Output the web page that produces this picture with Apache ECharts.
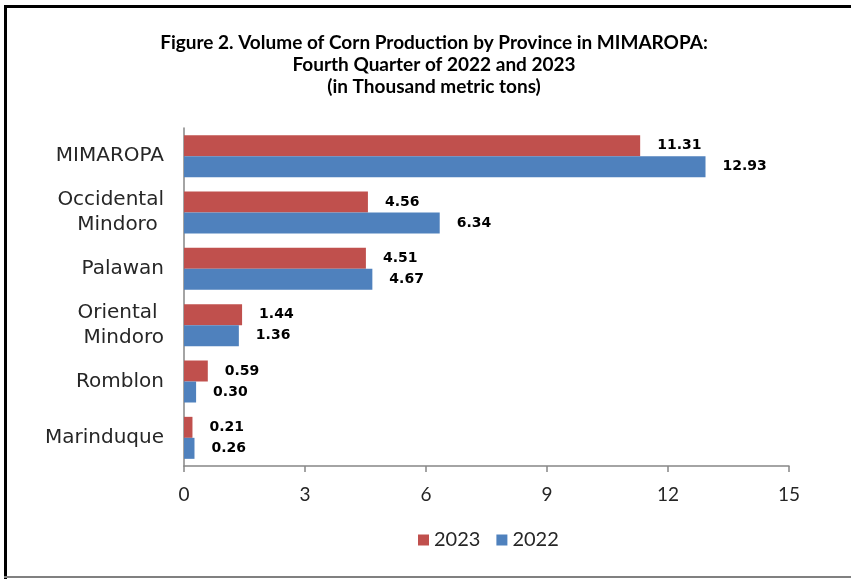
<!DOCTYPE html>
<html>
<head>
<meta charset="utf-8">
<script src="https://cdn.jsdelivr.net/npm/echarts@6/dist/echarts.min.js"></script>
<style>
  html, body { margin: 0; padding: 0; background: #ffffff; }
  #chart { width: 851px; height: 579px; }
</style>
</head>
<body>
<div id="chart"></div>
<script>
var categories = ['MIMAROPA', 'Occidental\nMindoro ', 'Palawan', 'Oriental \nMindoro', 'Romblon', 'Marinduque'];
var values2023 = [11.31, 4.56, 4.51, 1.44, 0.59, 0.21];
var values2022 = [12.93, 6.34, 4.67, 1.36, 0.30, 0.26];
var xTicks = [0, 3, 6, 9, 12, 15];
var titleLines = ['Figure 2. Volume of Corn Production by Province in MIMAROPA:', 'Fourth Quarter of 2022 and 2023', '(in Thousand metric tons)'];

var chart = echarts.init(document.getElementById('chart'), null, { renderer: 'canvas' });

var labelStyle = {
  show: true,
  position: 'right',
  distance: 17,
  color: '#000000',
  fontFamily: 'DejaVu Sans',
  fontWeight: 'bold',
  fontSize: 14,
  formatter: function (p) { return p.value.toFixed(2); }
};

chart.setOption({
  animation: false,
  backgroundColor: '#ffffff',
  title: {
    text: titleLines.join('\n'),
    left: 429,
    top: 27,
    textAlign: 'center',
    textStyle: {
      fontFamily: 'Lato',
      fontWeight: 'bold',
      fontSize: 19,
      lineHeight: 22,
      color: '#000000'
    }
  },
  legend: {
    data: ['2023', '2022'],
    left: 418,
    top: 530,
    itemWidth: 11,
    itemHeight: 11,
    itemGap: 16,
    icon: 'rect',
    padding: 0,
    textStyle: { fontFamily: 'Lato', fontSize: 20, color: '#262626' }
  },
  grid: { left: 184, right: 62, top: 128, bottom: 113, containLabel: false },
  xAxis: {
    type: 'value',
    min: xTicks[0],
    max: xTicks[xTicks.length - 1],
    interval: 3,
    axisLine: { show: true, lineStyle: { color: '#868686', width: 1.5 } },
    axisTick: { show: true, length: 6, lineStyle: { color: '#868686', width: 1.5 } },
    splitLine: { show: false },
    axisLabel: { margin: 19, fontFamily: 'Lato', fontSize: 19, color: '#262626' }
  },
  yAxis: {
    type: 'category',
    data: categories,
    inverse: true,
    axisLine: { show: true, lineStyle: { color: '#868686', width: 1.5 } },
    axisTick: { show: false },
    axisLabel: { margin: 20, fontFamily: 'DejaVu Sans', fontSize: 20, lineHeight: 25, color: '#262626', align: 'right' }
  },
  series: [
    {
      name: '2023',
      type: 'bar',
      data: values2023,
      barWidth: 21,
      barGap: '0%',
      itemStyle: { color: '#C0504D' },
      label: labelStyle
    },
    {
      name: '2022',
      type: 'bar',
      data: values2022,
      barWidth: 21,
      barGap: '0%',
      itemStyle: { color: '#4F81BD' },
      label: labelStyle
    }
  ],
  graphic: [
    { type: 'rect', shape: { x: 4, y: 5, width: 851, height: 3 }, style: { fill: '#000000' } },
    { type: 'rect', shape: { x: 4, y: 5, width: 3, height: 574 }, style: { fill: '#000000' } },
    { type: 'rect', shape: { x: 4, y: 576, width: 851, height: 2 }, style: { fill: '#808080' } }
  ]
});
</script>
</body>
</html>
